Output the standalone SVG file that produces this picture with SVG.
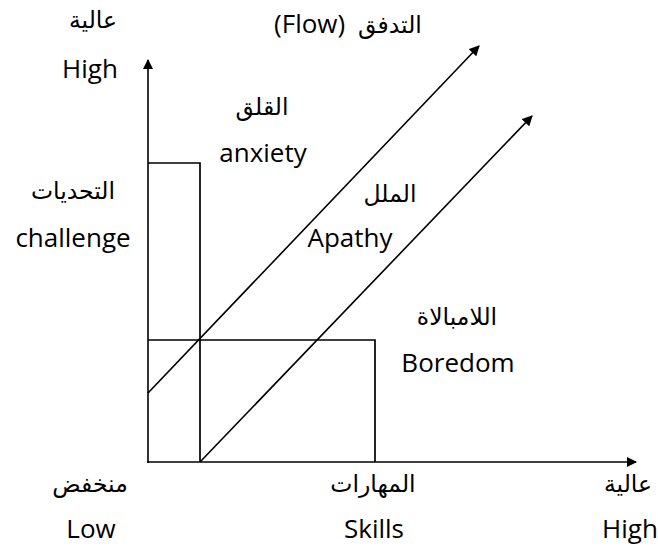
<svg xmlns="http://www.w3.org/2000/svg" width="658" height="550" viewBox="0 0 658 550">
<style>
text{font-family:"Open Sans","DejaVu Sans",sans-serif;fill:#000;text-anchor:middle}
.en{font-size:26px}
.ar{font-size:23.5px}
.ln{stroke:#000;stroke-width:1.7;fill:none}
.ar-line{stroke:#000;stroke-width:1.6;fill:none;marker-end:url(#ah)}
</style>
<defs>
<marker id="ah" viewBox="0 0 10 10" refX="9" refY="5" markerWidth="6.5" markerHeight="6.5" markerUnits="strokeWidth" orient="auto">
<path d="M0,0 L10,5 L0,10 z" fill="#000"/>
</marker>
</defs>
<g id="connectors">
<line class="ar-line" x1="148" y1="463" x2="148" y2="60"/>
<line class="ar-line" x1="147" y1="462" x2="636" y2="462"/>
<polyline class="ln" points="148,163 200,163 200,462"/>
<polyline class="ln" points="148,340 375,340 375,462"/>
<line class="ar-line" x1="148" y1="393" x2="479" y2="46"/>
<line class="ar-line" x1="200" y1="462" x2="532" y2="116"/>
</g>
<g id="y-high"><text class="ar" x="93" y="28">عالية</text><text class="en" x="90" y="78">High</text></g>
<g id="flow"><text class="en" x="348" y="33">(Flow) <tspan class="ar" dx="6">التدفق</tspan></text></g>
<g id="anxiety"><text class="ar" x="262" y="115">القلق</text><text class="en" x="263" y="162">anxiety</text></g>
<g id="challenge"><text class="ar" x="73" y="199">التحديات</text><text class="en" x="73" y="247">challenge</text></g>
<g id="apathy"><text class="ar" x="390" y="202">الملل</text><text class="en" x="350" y="247">Apathy</text></g>
<g id="boredom"><text class="ar" x="457" y="325">اللامبالاة</text><text class="en" x="458" y="372">Boredom</text></g>
<g id="x-low"><text class="ar" x="90" y="492">منخفض</text><text class="en" x="91" y="538">Low</text></g>
<g id="skills"><text class="ar" x="373" y="492">المهارات</text><text class="en" x="374" y="538">Skills</text></g>
<g id="x-high"><text class="ar" x="628" y="492">عالية</text><text class="en" x="630" y="538">High</text></g>
</svg>
